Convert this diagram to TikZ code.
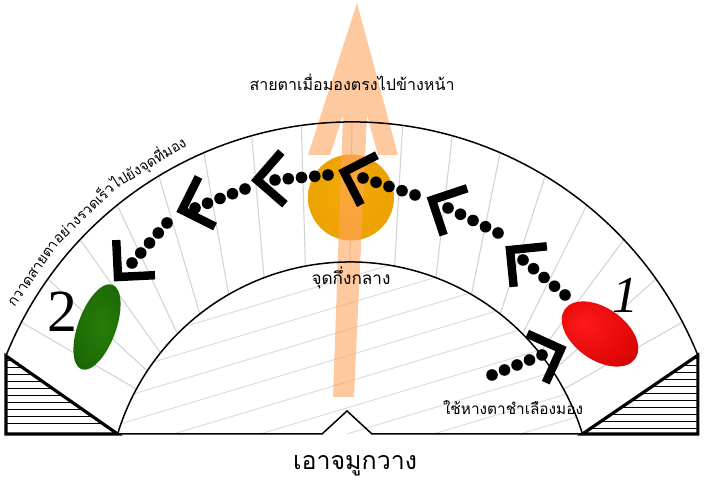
\documentclass[tikz,border=0pt]{standalone}
\usepackage{fontspec}
\newfontfamily\thai[Script=Thai]{Loma}
\newfontfamily\digits{Liberation Serif}
\usetikzlibrary{calc}
\definecolor{spokec}{RGB}{212,212,212}
\definecolor{hatchc}{RGB}{218,218,218}
\definecolor{arrowc}{RGB}{255,165,95}
\definecolor{ballA}{RGB}{241,170,6}
\definecolor{ballB}{RGB}{236,160,2}
\definecolor{ballC}{RGB}{212,120,0}
\definecolor{redA}{RGB}{255,25,25}
\definecolor{redB}{RGB}{225,8,8}
\definecolor{redC}{RGB}{160,0,0}
\definecolor{greenA}{RGB}{40,125,8}
\definecolor{greenB}{RGB}{28,105,4}
\definecolor{greenC}{RGB}{12,66,0}
\pgfdeclareradialshading{ballsh}{\pgfpoint{-4bp}{4bp}}{color(0bp)=(ballA); color(30bp)=(ballB); color(50bp)=(ballC)}
\pgfdeclareradialshading{redsh}{\pgfpoint{-10bp}{8bp}}{color(0bp)=(redA); color(25bp)=(redB); color(55bp)=(redC)}
\pgfdeclareradialshading{greensh}{\pgfpoint{6bp}{0bp}}{color(0bp)=(greenA); color(28bp)=(greenB); color(52bp)=(greenC)}
\newlength\wtmp
\newcommand\fitthai[2]{\settowidth\wtmp{\thai\fontsize{10}{12}\selectfont #2}%
  \pgfmathsetmacro\fitsz{10*#1*1.00375/\wtmp}%
  \thai\fontsize{\fitsz}{\fitsz}\selectfont #2}
\newcommand\prepword[2]{%
  \settowidth\wtmp{\arcfont #2}%
  \pgfmathsetmacro\arcd{\wtmp/1.00375/\arcR*57.29578}%
  \pgfmathsetmacro\arcm{\arccur-\arcd/2}%
  \expandafter\let\csname am#1\endcsname\arcm
  \pgfmathsetmacro\arccur{\arccur-\arcd}%
}
\newcommand\putword[2]{%
  \edef\tmpang{\csname am#1\endcsname}%
  \node[rotate=\tmpang-90,anchor=base,inner sep=0pt,outer sep=0pt] (#1) at ([shift={(\tmpang:\arcR)}]352,-10) {\arcfont #2};%
}
\newcommand\dotchain[4]{%
  \coordinate (#1a) at (#2); \coordinate (#1b) at (#3); \coordinate (#1v) at (#4);
  \foreach \i in {0,...,4} \fill[pip] ($(#1a)!\i/4!(#1b)$) circle (5.8);
  \draw[chev] let \p1=($(#1v)-(#1a)$), \n1={atan2(\y1,\x1)} in
    ($(#1v)+(\n1+135:37)$) -- (#1v) -- ($(#1v)+(\n1-135:37)$);
}
\tikzset{
  chev/.style={line width=8.5, line join=miter, miter limit=10},
  pip/.style={fill=black},
  spoke/.style={draw=spokec, line width=1.1},
  hatchl/.style={draw=hatchc, line width=0.9},
  arcl/.style={draw=black, line width=1.5},
  tri/.style={draw=black, line width=3.2, line join=miter},
  trihatch/.style={draw=black, line width=0.9},
  lbl/.style={inner sep=0pt, outer sep=0pt},
}
\begin{document}
\settowidth\wtmp{\thai\fontsize{10}{12}\selectfont กวาดสายตาอย่างรวดเร็วไปยังจุดที่มอง}%
\pgfmathsetmacro\arcfs{10*240*1.00375/\wtmp}%
\def\arcfont{\thai\fontsize{\arcfs}{\arcfs}\selectfont}%
\def\arcR{384}%
\def\arccur{151}%
\prepword{w1}{กวาดสายตา}%
\prepword{w2}{อย่างรวดเร็ว}%
\prepword{w3}{ไปยังจุดที่มอง}%
\begin{tikzpicture}[x=1bp,y=1bp]
\useasboundingbox (0,0) rectangle (705,485);
\fill[white] (0,0) rectangle (705,485);
\coordinate (OC) at (352,-10);
\coordinate (IC) at (350,-20);
\coordinate (OL) at ([shift={(158.1:373)}]OC);
\coordinate (OR) at ([shift={(22:373)}]OC);
\coordinate (IL) at ([shift={(163.01:243)}]IC);
\coordinate (IR) at ([shift={(16.99:243)}]IC);
\coordinate (TLb) at (OL |- IL);
\coordinate (TRb) at (OR |- IR);
% parallel hatch inside inner half disc
\begin{scope}
  \clip (IL) arc[start angle=163.01, end angle=16.99, radius=243] -- cycle;
  \foreach \k in {-12,...,12} \draw[hatchl] (80,{60+26*\k+0.3*(80-290)}) -- (620,{60+26*\k+0.3*(620-290)});
\end{scope}
% spokes in the band
\foreach \k in {-8,...,8} {
  \pgfmathsetmacro\dd{7.8*\k}
  \pgfmathsetmacro\tho{90+\dd}
  \pgfmathsetmacro\thi{90+\dd+7*sin(3*\dd)}
  \draw[spoke] ([shift={(\tho:373)}]OC) -- ([shift={(\thi:243)}]IC);
}
% eyes
\shade[shading=ballsh] (351,287.5) circle (43);
\shade[shading=redsh, rotate around={-35:(600,151)}] (600,151) ellipse [x radius=43, y radius=26];
\shade[shading=greensh, rotate around={70:(97,158)}] (97,158) ellipse [x radius=45, y radius=19];
% big arrow
\fill[arrowc, opacity=0.6] (357,482) -- (398,330) -- (378,330) -- (367,370) -- (354,88) -- (333,88) -- (343,370) -- (330,330) -- (308,330) -- cycle;
% outline
\draw[arcl] (OL) arc[start angle=158.1, end angle=22, radius=373];
\draw[arcl] (IL) arc[start angle=163.01, end angle=16.99, radius=243];
\draw[arcl] (IL) -- (322,51) -- (347,74) -- (372,51) -- (IR);
\begin{scope}
  \clip (OL) -- (TLb) -- (IL) -- cycle;
  \foreach \y in {62,69,...,128} \draw[trihatch] (0,\y) -- (130,\y);
\end{scope}
\begin{scope}
  \clip (OR) -- (TRb) -- (IR) -- cycle;
  \foreach \y in {57,64,...,128} \draw[trihatch] (570,\y) -- (705,\y);
\end{scope}
\draw[tri] (OL) -- (TLb) -- (IL) -- cycle;
\draw[tri] (OR) -- (TRb) -- (IR) -- cycle;
% dotted arrows
\dotchain{a1}{492,110}{542,130}{561,136}
\dotchain{a2}{565,190}{523,225}{510,235}
\dotchain{a3}{498,252}{448,277}{432,285}
\dotchain{a4}{415,290}{363,307}{344,313}
\dotchain{a5}{328,310}{275,305}{257,305}
\dotchain{a6}{245,296}{195,277}{182,275}
\dotchain{a7}{167,262}{132,222}{118,208}
% texts
\node[lbl] (ttop) at (352,403) {\fitthai{205}{สายตาเมื่อมองตรงไปข้างหน้า}};
\node[lbl] (tmid) at (351,207) {\fitthai{79}{จุดกึ่งกลาง}};
\node[lbl] (tside) at (513,77) {\fitthai{140}{ใช้หางตาชำเลืองมอง}};
\node[lbl] (tnose) at (355,19) {\fitthai{124}{เอาจมูกวาง}};
\node[lbl] (n1) at (625,190) {\digits\itshape\fontsize{52}{52}\selectfont 1};
\node[lbl] (n2) at (62,173) {\digits\fontsize{60}{60}\selectfont 2};
% text along the outer arc
\putword{w1}{กวาดสายตา}
\putword{w2}{อย่างรวดเร็ว}
\putword{w3}{ไปยังจุดที่มอง}
\end{tikzpicture}
\end{document}
